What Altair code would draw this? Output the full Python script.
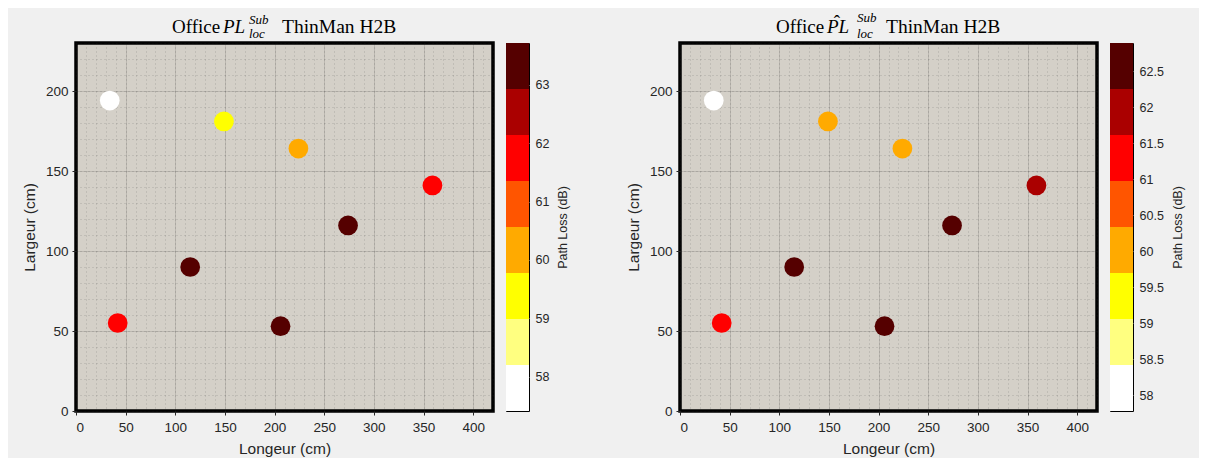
import altair as alt
import pandas as pd

# ---- data ----
X_CM = [34, 149, 224, 359, 274, 42, 115, 206]
Y_CM = [194, 181, 164, 141, 116, 55, 90, 53]
PL_MEAS = [57.41, 59.4, 60.2, 61.8, 63.2, 61.9, 63.72, 63.4]
PL_EST = [57.78, 60.0, 60.1, 62.0, 62.6, 61.3, 62.89, 62.7]

HOT8 = ["#FFFFFF", "#FFFF80", "#FFFF00", "#FFAA00", "#FF5500", "#FF0000", "#AA0000", "#550000"]

TICKS_MEAS = [58, 59, 60, 61, 62, 63]
TICKS_EST = [58, 58.5, 59, 59.5, 60, 60.5, 61, 61.5, 62, 62.5]
X_TICKS = [0, 50, 100, 150, 200, 250, 300, 350, 400]
Y_TICKS = [0, 50, 100, 150, 200]
X_MINOR = list(range(0, 421, 10))
Y_MINOR = list(range(0, 231, 10))
X_DOMAIN = [0, 420]
Y_DOMAIN = [0, 230]

TITLE_MEAS = ["Office", "PL", "Sub", "loc", "ThinMan H2B"]
TITLE_EST = ["Office", "PL", "Sub", "loc", "ThinMan H2B"]

X_TITLE = "Longeur (cm)"
Y_TITLE = "Largeur (cm)"
CB_TITLE = "Path Loss (dB)"

SANS = "Liberation Sans"
SERIF = "Liberation Serif"
TXT = "#262626"
W, H = 417, 368


def edges_of(vals):
    lo, hi = min(vals), max(vals)
    return [lo + (hi - lo) * i / 8 for i in range(9)]


def text_piece(s, px, py, size, italic=False, align="left"):
    kw = dict(font=SERIF, fontSize=size, align=align, baseline="alphabetic", color="black")
    if italic:
        kw["fontStyle"] = "italic"
    return alt.Chart(pd.DataFrame({"t": [s]})).mark_text(**kw).encode(
        text="t:N", x=alt.value(px), y=alt.value(py)
    )


def scatter(vals, title, hat):
    ed = edges_of(vals)
    df = pd.DataFrame({"x": X_CM, "y": Y_CM, "pl": vals})
    xs = alt.Scale(domain=X_DOMAIN, nice=False, zero=False)
    ys = alt.Scale(domain=Y_DOMAIN, nice=False, zero=False)
    minor = alt.Chart(df).mark_point(opacity=0).encode(
        x=alt.X("x:Q", scale=xs, axis=alt.Axis(values=X_MINOR, grid=True, gridDash=[1, 3],
                                               gridColor=TXT, gridOpacity=0.22, labels=False,
                                               ticks=False, domain=False, title=None, orient="bottom")),
        y=alt.Y("y:Q", scale=ys, axis=alt.Axis(values=Y_MINOR, grid=True, gridDash=[1, 3],
                                               gridColor=TXT, gridOpacity=0.22, labels=False,
                                               ticks=False, domain=False, title=None, orient="left")),
    )
    major = alt.Chart(df).mark_circle(size=390, opacity=1).encode(
        x=alt.X("x:Q", scale=xs, axis=alt.Axis(values=X_TICKS, grid=True, gridColor=TXT, gridOpacity=0.14,
                                               title=X_TITLE, orient="bottom", domain=False,
                                               tickSize=4, tickColor=TXT, labelPadding=5,
                                               labelFont=SANS, labelFontSize=13.5, labelColor=TXT,
                                               titleFont=SANS, titleFontSize=15.5, titleFontWeight="normal",
                                               titleColor=TXT, titlePadding=8)),
        y=alt.Y("y:Q", scale=ys, axis=alt.Axis(values=Y_TICKS, grid=True, gridColor=TXT, gridOpacity=0.14,
                                               title=Y_TITLE, orient="left", domain=False,
                                               tickSize=4, tickColor=TXT, labelPadding=4,
                                               labelFont=SANS, labelFontSize=13.5, labelColor=TXT,
                                               titleFont=SANS, titleFontSize=15.5, titleFontWeight="normal",
                                               titleColor=TXT, titlePadding=8)),
        color=alt.Color("pl:Q", scale=alt.Scale(type="threshold", domain=ed[1:-1], range=HOT8), legend=None),
    )
    texts = [
        text_piece(title[0], 96, -10, 19),
        text_piece(title[1], 147, -10, 19, italic=True),
        text_piece(title[2], 173 if not hat else 177, -19 if not hat else -21, 13, italic=True),
        text_piece(title[3], 173 if not hat else 177, -5, 13, italic=True),
        text_piece(title[4], 206, -10, 19.5),
    ]
    if hat:
        texts.append(text_piece("\u02c6", 157, -15, 19, align="center"))
    return alt.layer(minor, major, *texts).resolve_axis(x="independent", y="independent").properties(
        width=W, height=H, view=alt.ViewBackground(fill="#D4D0C8", stroke="black", strokeWidth=3.5)
    )


def colorbar(vals, ticks):
    ed = edges_of(vals)
    df = pd.DataFrame({"lo": ed[:-1], "hi": ed[1:], "c": HOT8, "a": [0] * 8, "b": [1] * 8})
    return alt.Chart(df).mark_rect().encode(
        x=alt.X("a:Q", scale=alt.Scale(domain=[0, 1], nice=False), axis=None),
        x2="b:Q",
        y=alt.Y("lo:Q", scale=alt.Scale(domain=[ed[0], ed[-1]], nice=False, zero=False),
                axis=alt.Axis(orient="right", values=ticks, format="~g", domain=False, tickSize=4,
                              tickColor=TXT, offset=-4, labelPadding=6, labelFont=SANS,
                              labelFontSize=12.5, labelColor=TXT, title=CB_TITLE, titleFont=SANS,
                              titleFontSize=12.5, titleFontWeight="normal", titleColor=TXT,
                              titleAngle=270, titleBaseline="top", titlePadding=8)),
        y2="hi:Q",
        color=alt.Color("c:N", scale=None),
    ).properties(width=23, height=H, view=alt.ViewBackground(fill="white", stroke="black", strokeWidth=1))


spacer = alt.Chart(pd.DataFrame({"a": [0]})).mark_point(opacity=0).encode(
    x=alt.value(0), y=alt.value(0)
).properties(width=125, height=H, view=alt.ViewBackground(fill="transparent", stroke="transparent"))

chart = alt.hconcat(
    scatter(PL_MEAS, TITLE_MEAS, False),
    colorbar(PL_MEAS, TICKS_MEAS),
    spacer,
    scatter(PL_EST, TITLE_EST, True),
    colorbar(PL_EST, TICKS_EST),
    spacing=13,
    bounds="flush",
).resolve_scale(color="independent").properties(
    background="#F0F0F0",
    padding={"left": 12, "top": 2, "right": 14, "bottom": 0},
)

chart.save("out.html", embed_options={"renderer": "svg", "actions": False})
